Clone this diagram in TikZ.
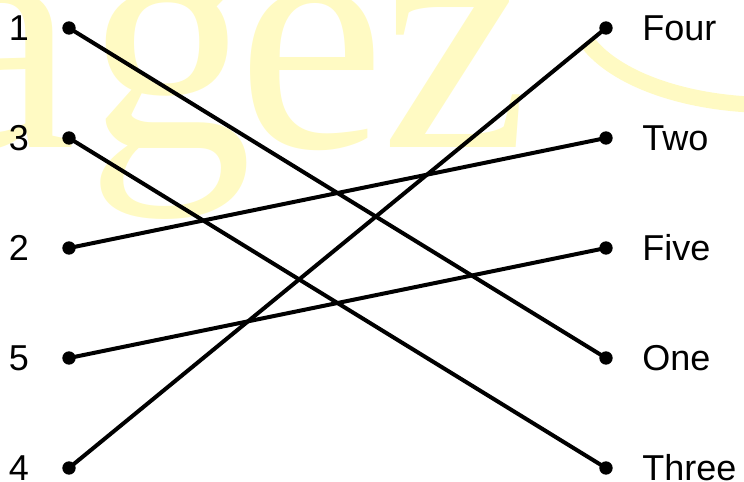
\documentclass[tikz,border=0pt]{standalone}
\usepackage{fontspec}
\setmainfont{Liberation Sans}
\newfontfamily\wmfont{Liberation Serif}
\usepackage{xcolor}
\usetikzlibrary{positioning}
\definecolor{wmyellow}{RGB}{255,250,195}

\begin{document}
\begin{tikzpicture}[x=0.75pt,y=-0.75pt,
  dot/.style={circle,fill=black,inner sep=0pt,minimum size=10pt},
  lbl/.style={font=\fontsize{27}{30}\selectfont,inner sep=0pt},
  wm/.style={anchor=base,inner sep=0pt,text=wmyellow,font=\wmfont\fontsize{250}{250}\selectfont},
  link/.style={line width=3pt}]
\useasboundingbox (0,0) rectangle (744,482);
\clip (0,0) rectangle (744,482);
% watermark behind the drawing
\node[wm] (wmA) at (2,147) {a};
\node[wm] (wmG) at (170,147) {g};
\node[wm] (wmE) at (311,147) {e};
\node[wm] (wmZ) at (455,147) {z};
\draw[wmyellow,line width=12pt] (770,8) ++(160:195 and 97) arc[start angle=160,end angle=90,x radius=195,y radius=97];
% left column
\node[dot] (d1) at (69,28) {};
\node[dot] (d3) at (69,138) {};
\node[dot] (d2) at (69,248) {};
\node[dot] (d5) at (69,358) {};
\node[dot] (d4) at (69,468) {};
\node[lbl,anchor=base] (n1) at (19,40) {1};
\node[lbl,anchor=base] (n3) at (19,150) {3};
\node[lbl,anchor=base] (n2) at (19,260) {2};
\node[lbl,anchor=base] (n5) at (19,370) {5};
\node[lbl,anchor=base] (n4) at (19,480) {4};
% right column
\node[dot] (dFour) at (606,28) {};
\node[dot] (dTwo) at (606,138) {};
\node[dot] (dFive) at (606,248) {};
\node[dot] (dOne) at (606,358) {};
\node[dot] (dThree) at (606,468) {};
\node[lbl,anchor=base west] (wFour) at (642,40) {Four};
\node[lbl,anchor=base west] (wTwo) at (642,150) {Two};
\node[lbl,anchor=base west] (wFive) at (642,260) {Five};
\node[lbl,anchor=base west] (wOne) at (642,370) {One};
\node[lbl,anchor=base west] (wThree) at (642,480) {Three};
% matching lines
\draw[link] (d1.center) -- (dOne.center);
\draw[link] (d3.center) -- (dThree.center);
\draw[link] (d2.center) -- (dTwo.center);
\draw[link] (d5.center) -- (dFive.center);
\draw[link] (d4.center) -- (dFour.center);
\end{tikzpicture}
\end{document}
